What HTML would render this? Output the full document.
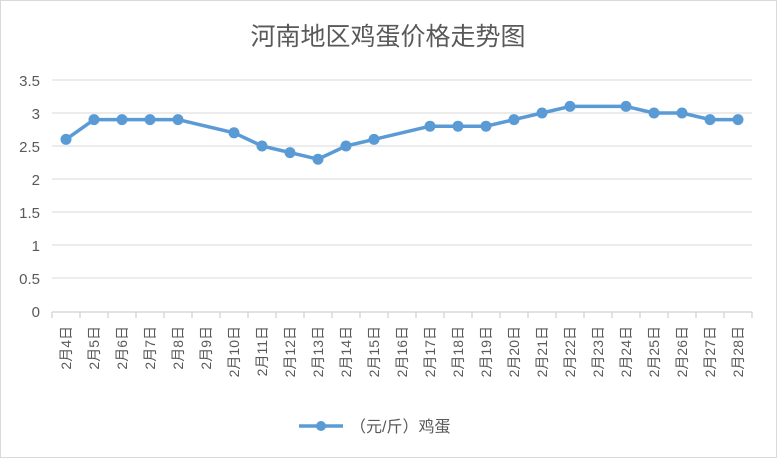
<!DOCTYPE html>
<html><head><meta charset="utf-8"><style>
body{margin:0;background:#fff}
svg{display:block;font-family:"Liberation Sans","Noto Sans CJK SC",sans-serif}
</style></head><body>
<svg id="c" width="777" height="458">
<rect x="0.5" y="0.5" width="776" height="457" fill="#fff" stroke="#d9d9d9"/>
<text x="388" y="45" text-anchor="middle" font-size="25" fill="#595959">河南地区鸡蛋价格走势图</text>
<g id="grid"></g><g id="axes"></g><g id="series"></g>
<g>
<line x1="299" y1="426" x2="343" y2="426" stroke="#5b9bd5" stroke-width="3.5"/>
<circle cx="321" cy="426" r="5" fill="#5b9bd5"/>
<text x="350" y="432" font-size="16" fill="#595959">（元/斤）鸡蛋</text>
</g>
</svg>
<script>
const categories=["2月4日","2月5日","2月6日","2月7日","2月8日","2月9日","2月10日","2月11日","2月12日","2月13日","2月14日","2月15日","2月16日","2月17日","2月18日","2月19日","2月20日","2月21日","2月22日","2月23日","2月24日","2月25日","2月26日","2月27日","2月28日"];
const prices=[2.6,2.9,2.9,2.9,2.9,null,2.7,2.5,2.4,2.3,2.5,2.6,null,2.8,2.8,2.8,2.9,3.0,3.1,null,3.1,3.0,3.0,2.9,2.9];
const yTicks=[0,0.5,1,1.5,2,2.5,3,3.5];
const yTickLabels=["0","0.5","1","1.5","2","2.5","3","3.5"];
const NS="http://www.w3.org/2000/svg";
const L=52,R=752,T=80,B=311,YMAX=3.5;
const step=(R-L)/categories.length;
const xs=i=>L+step*(i+0.5);
const ys=v=>B-(v/YMAX)*(B-T);
function mk(tag,attrs,parent){const e=document.createElementNS(NS,tag);for(const k in attrs)e.setAttribute(k,attrs[k]);parent.appendChild(e);return e;}
const grid=document.getElementById('grid'),axes=document.getElementById('axes'),series=document.getElementById('series');
yTicks.forEach((t,i)=>{
  const y=ys(t);
  if(t>0){const g=mk('line',{x1:L,x2:R,y1:y,y2:y,stroke:'#d9d9d9','stroke-width':1},grid);
  
  }
  const tx=mk('text',{x:40,y:y+6,'text-anchor':'end','font-size':15,fill:'#595959'},axes);
  tx.textContent=yTickLabels[i];
  
  
});
const ax=mk('line',{x1:L,x2:R,y1:B+1,y2:B+1,stroke:'#d9d9d9','stroke-width':1.5},axes);


for(let i=0;i<=categories.length;i++){
  const x=L+step*i;
  const tk=mk('line',{x1:x,x2:x,y1:B+1,y2:B+7,stroke:'#d9d9d9','stroke-width':1.5},axes);
  
  
}
categories.forEach((c,i)=>{
  const x=xs(i)+5,y=B+15;
  const tx=mk('text',{x:x,y:y,'text-anchor':'end','font-size':14,fill:'#595959',transform:`rotate(-90 ${x} ${y})`},axes);
  tx.textContent=c;
  
  
});
const pts=[];prices.forEach((v,i)=>{if(v!==null)pts.push([xs(i),ys(v)]);});
const pl=mk('polyline',{points:pts.map(p=>p.join(',')).join(' '),fill:'none',stroke:'#5b9bd5','stroke-width':3.5,'stroke-linejoin':'round'},series);


pts.forEach(p=>{
  const c=mk('circle',{cx:p[0],cy:p[1],r:5.5,fill:'#5b9bd5'},series);
  
  
});
</script>
</body></html>
